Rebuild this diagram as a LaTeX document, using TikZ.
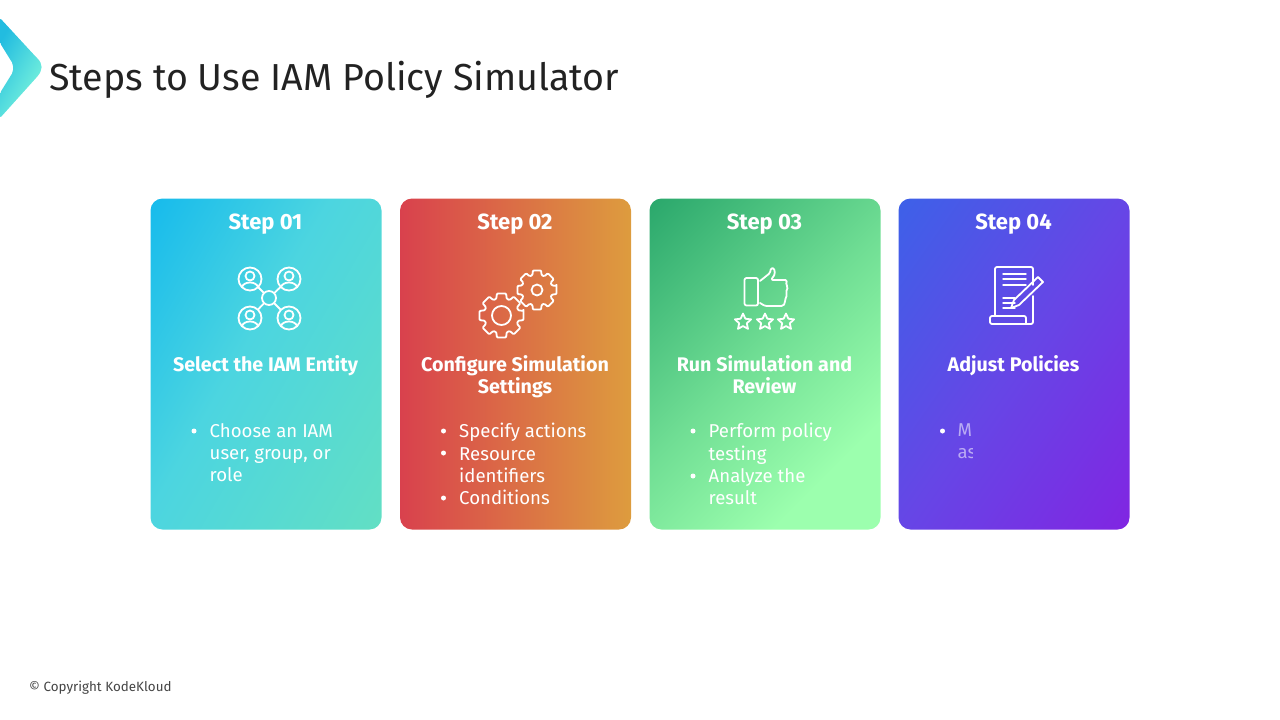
\documentclass[tikz,border=0pt]{standalone}
\usepackage{fontspec}
\setmainfont{Fira Sans}
\usetikzlibrary{positioning, shapes.geometric}

\definecolor{titleink}{HTML}{222222}
\definecolor{footink}{HTML}{444444}
\definecolor{logoa}{HTML}{22BCE0}
\definecolor{logob}{HTML}{80F8DC}
\definecolor{onea}{HTML}{17BBEC}
\definecolor{onem}{HTML}{4CD5E0}
\definecolor{oneb}{HTML}{62DFC4}
\definecolor{twoa}{HTML}{D9414D}
\definecolor{twob}{HTML}{DD9C3E}
\definecolor{threea}{HTML}{2BA86C}
\definecolor{threem}{HTML}{70DE94}
\definecolor{threeb}{HTML}{9CFFAE}
\definecolor{foura}{HTML}{3E60E8}
\definecolor{fourm}{HTML}{6646E6}
\definecolor{fourb}{HTML}{8026E2}

\pgfdeclareverticalshading{cardone}{100bp}{color(0bp)=(onea); color(16bp)=(onea); color(45bp)=(onem); color(84bp)=(oneb); color(100bp)=(oneb)}
\pgfdeclareverticalshading{cardthree}{100bp}{color(0bp)=(threea); color(15bp)=(threea); color(48bp)=(threem); color(72bp)=(threeb); color(100bp)=(threeb)}
\pgfdeclareverticalshading{cardfour}{100bp}{color(0bp)=(foura); color(16bp)=(foura); color(50bp)=(fourm); color(84bp)=(fourb); color(100bp)=(fourb)}

\tikzset{
  card/.style={minimum width=231, minimum height=331, rounded corners=12, inner sep=0},
  stephead/.style={text=white, font=\fontsize{22}{26}\selectfont\bfseries},
  cardtitle/.style={text=white, align=center, anchor=north, inner sep=0, font=\fontsize{19.7}{22.3}\selectfont\bfseries},
  cardbody/.style={text=white, align=left, anchor=north west, inner sep=0, font=\fontsize{18.6}{22.3}\selectfont},
  dot/.style={circle, fill=white, minimum size=5, inner sep=0},
  iconline/.style={draw=white, line width=1.8, line join=round, line cap=round},
  ring/.style={circle, iconline, inner sep=0},
  starmark/.style={star, star points=5, star point ratio=2.1, iconline, inner sep=0, minimum size=17}
}

\begin{document}
\begin{tikzpicture}[x=1pt, y=-1pt]
\useasboundingbox (0,0) rectangle (1280,720);

% logo and heading
\shade[left color=logoa, right color=logob, shading angle=60, rounded corners=2]
  (0,18) -- (36,57) .. controls (43,64) and (43,70) .. (36,78) -- (0,118) -- (0,93) -- (13,72) -- (13,64) -- (0,43) -- cycle;
\node[anchor=base west, inner sep=0, text=titleink, font=\fontsize{37.6}{44}\selectfont] (title) at (49,90) {Steps to Use IAM Policy Simulator};
\node[anchor=west, inner sep=0, text=footink, font=\fontsize{13.4}{16}\selectfont] (foot) at (29,688) {© Copyright KodeKloud};

% step 01
\def\x{150.5}
\node[card, shade, shading=cardone, shading angle=240] (card1) at (\x + 115.5, 364) {};
\node[stephead] (head1) at (\x + 115, 224) {Step 01};
\node[cardtitle] (name1) at (\x + 115, 355) {Select the IAM Entity};
\node[dot] (dot1a) at (\x + 43.5, 431) {};
\node[cardbody] (text1a) at (\x + 59, 423) {Choose an IAM\\user, group, or\\role};

\node[ring, minimum size=14] (hub) at (\x + 118.5, 298) {};
\foreach \n/\a/\b in {1/250/279, 2/289/279, 3/250/318, 4/289/318} {
  \node[ring, minimum size=23] (user\n) at (\a,\b) {};
  \node[ring, minimum size=9] (userhead\n) at (\a,\b - 3) {};
  \draw[iconline] (\a - 8,\b + 8) .. controls (\a - 6,\b + 2) and (\a + 6,\b + 2) .. (\a + 8,\b + 8);
  \draw[iconline] (hub) -- (user\n);
}

% step 02
\def\x{400}
\node[card, left color=twoa, right color=twob] (card2) at (\x + 115.5, 364) {};
\node[stephead] (head2) at (\x + 115, 224) {Step 02};
\node[cardtitle] (name2) at (\x + 115, 355) {Configure Simulation\\Settings};
\node[dot] (dot2a) at (\x + 43.5, 431) {};
\node[dot] (dot2b) at (\x + 43.5, 453) {};
\node[dot] (dot2c) at (\x + 43.5, 498) {};
\node[cardbody] (text2a) at (\x + 59, 423) {Specify actions\\Resource\\identifiers\\Conditions};

\foreach \cx/\cy/\ro/\ri/\rh in {501.5/315.5/22.5/17.5/9.5, 537/290/20/15.5/5.5} {
  \draw[iconline, shift={(\cx,\cy)}, rounded corners=1] (-12:\ro)
    \foreach \a in {0,45,...,315} { -- (\a - 12:\ro) -- (\a + 12:\ro) -- (\a + 17:\ri) -- (\a + 28:\ri) } -- cycle;
  \draw[iconline] (\cx,\cy) circle[radius=\rh];
}

% step 03
\def\x{649.5}
\node[card, shade, shading=cardthree, shading angle=225] (card3) at (\x + 115.5, 364) {};
\node[stephead] (head3) at (\x + 115, 224) {Step 03};
\node[cardtitle] (name3) at (\x + 115, 355) {Run Simulation and\\Review};
\node[dot] (dot3a) at (\x + 43.5, 431) {};
\node[dot] (dot3b) at (\x + 43.5, 476) {};
\node[cardbody] (text3a) at (\x + 59, 423) {Perform policy\\testing\\Analyze the\\result};

\draw[iconline, rounded corners=2] (744.5,278) rectangle (758,305.5);
\draw[iconline, rounded corners=1.5] (760,281) -- (770,273) -- (771,268) -- (774,268) -- (775,274) -- (771,280)
  -- (787,280) -- (786,285) -- (788,287) -- (786,292) -- (787,295) -- (785,300) -- (785,303) -- (783,306) -- (765,306) -- (760,303);
\node[starmark] (star1) at (743,322) {};
\node[starmark] (star2) at (765,322) {};
\node[starmark] (star3) at (786,322) {};

% step 04
\def\x{898.5}
\node[card, shade, shading=cardfour, shading angle=235] (card4) at (\x + 115.5, 364) {};
\node[stephead] (head4) at (\x + 115, 224) {Step 04};
\node[cardtitle] (name4) at (\x + 115, 355) {Adjust Policies};
\node[dot] (dot4a) at (\x + 44, 431) {};
\begin{scope}
  \clip (950,420) rectangle (972,465);
  \node[cardbody, opacity=0.55] (text4a) at (\x + 59, 423) {M\\as};
\end{scope}

\draw[iconline, rounded corners=2] (995,316) -- (995,267) -- (1033,267) -- (1033,285);
\draw[iconline, rounded corners=2] (1033,296) -- (1033,324) -- (990,324) -- (990,316) -- (1026,316) -- (1026,324);
\foreach \b in {274,279,285} { \draw[iconline, line width=1.4] (1003,\b) -- (1026,\b); }
\foreach \b in {298,303,308} { \draw[iconline, line width=1.4] (1003,\b) -- (1015,\b); }
\draw[iconline] (1011,308) -- (1014,300) -- (1038,277) -- (1043,282) -- (1019,305) -- cycle;

\end{tikzpicture}
\end{document}
